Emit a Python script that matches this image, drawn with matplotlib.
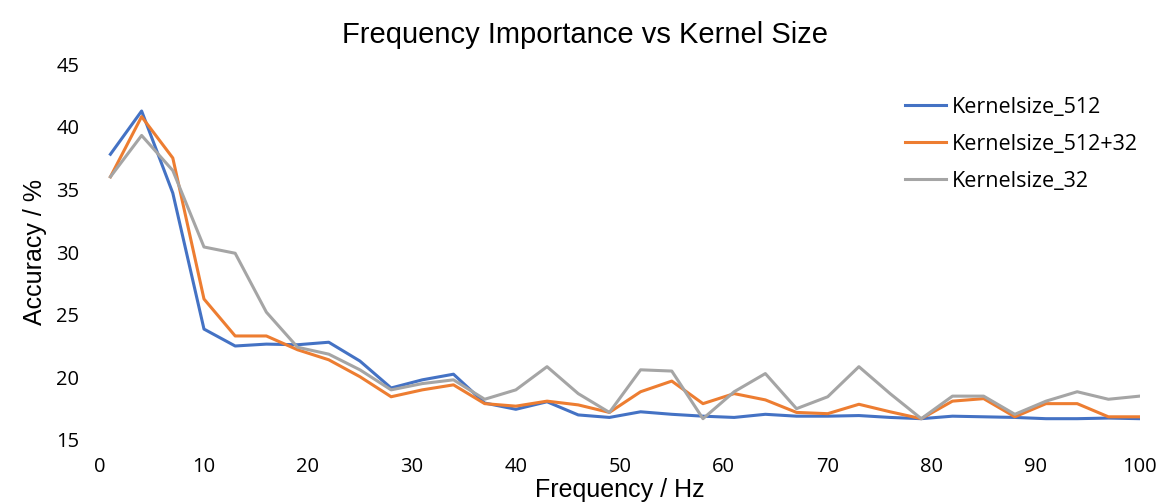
import matplotlib
matplotlib.use("Agg")
import matplotlib.pyplot as plt
import numpy as np

freq = list(range(1, 101, 3))

k512 = [37.8, 41.25, 34.7, 23.85, 22.5, 22.65, 22.6, 22.8, 21.3, 19.15,
        19.8, 20.25, 17.95, 17.45, 18.05, 17.0, 16.8, 17.25, 17.05, 16.9,
        16.8, 17.05, 16.9, 16.9, 16.95, 16.8, 16.7, 16.9, 16.85, 16.8,
        16.7, 16.7, 16.75, 16.7]

k512_32 = [36.0, 40.8, 37.5, 26.25, 23.3, 23.3, 22.2, 21.4, 20.05, 18.45,
           19.0, 19.4, 17.9, 17.7, 18.1, 17.8, 17.2, 18.85, 19.7, 17.9,
           18.7, 18.2, 17.2, 17.1, 17.85, 17.25, 16.7, 18.1, 18.3, 16.85,
           17.9, 17.9, 16.85, 16.85]

k32 = [36.0, 39.3, 36.5, 30.4, 29.9, 25.2, 22.4, 21.85, 20.6, 19.0,
       19.5, 19.8, 18.25, 19.0, 20.85, 18.7, 17.2, 20.6, 20.5, 16.7,
       18.85, 20.3, 17.5, 18.45, 20.85, 18.7, 16.7, 18.5, 18.5, 17.05,
       18.1, 18.85, 18.25, 18.5]

labels = ["Kernelsize_512", "Kernelsize_512+32", "Kernelsize_32"]
colors = ["#4472C4", "#ED7D31", "#A5A5A5"]

fig = plt.figure(figsize=(11.7, 5.04), dpi=100)
ax = fig.add_axes([0.0855, 0.127, 0.8885, 0.746])

for ys, lab, c in zip([k512, k512_32, k32], labels, colors):
    ax.plot(freq, ys, color=c, lw=2.2, label=lab)

ax.set_xlim(0, 100)
ax.set_ylim(15, 45)
ax.set_xticks(np.arange(0, 101, 10))
ax.set_yticks(np.arange(15, 46, 5))
for s in ax.spines.values():
    s.set_visible(False)
ax.tick_params(length=0, labelsize=14.5)
for t in ax.get_xticklabels() + ax.get_yticklabels():
    t.set_fontfamily("Open Sans")
ax.tick_params(axis="y", pad=15)
ax.tick_params(axis="x", pad=12)

fig.text(0.53, 0.014, "Frequency / Hz", ha="center", va="baseline",
         fontsize=18, family="Liberation Sans")
fig.text(0.03, 0.5, "Accuracy / %", rotation=90, ha="center", va="center",
         fontsize=18, family="Liberation Sans")
fig.text(0.5, 0.915, "Frequency Importance vs Kernel Size", ha="center",
         va="baseline", fontsize=21, family="Liberation Sans")

ax.legend(loc="upper right", bbox_to_anchor=(1.017, 0.965), frameon=False,
          prop={"family": "Open Sans", "size": 15.5}, handlelength=1.95,
          labelspacing=0.75, handletextpad=0.25)

plt.savefig("out.png", dpi=100)
